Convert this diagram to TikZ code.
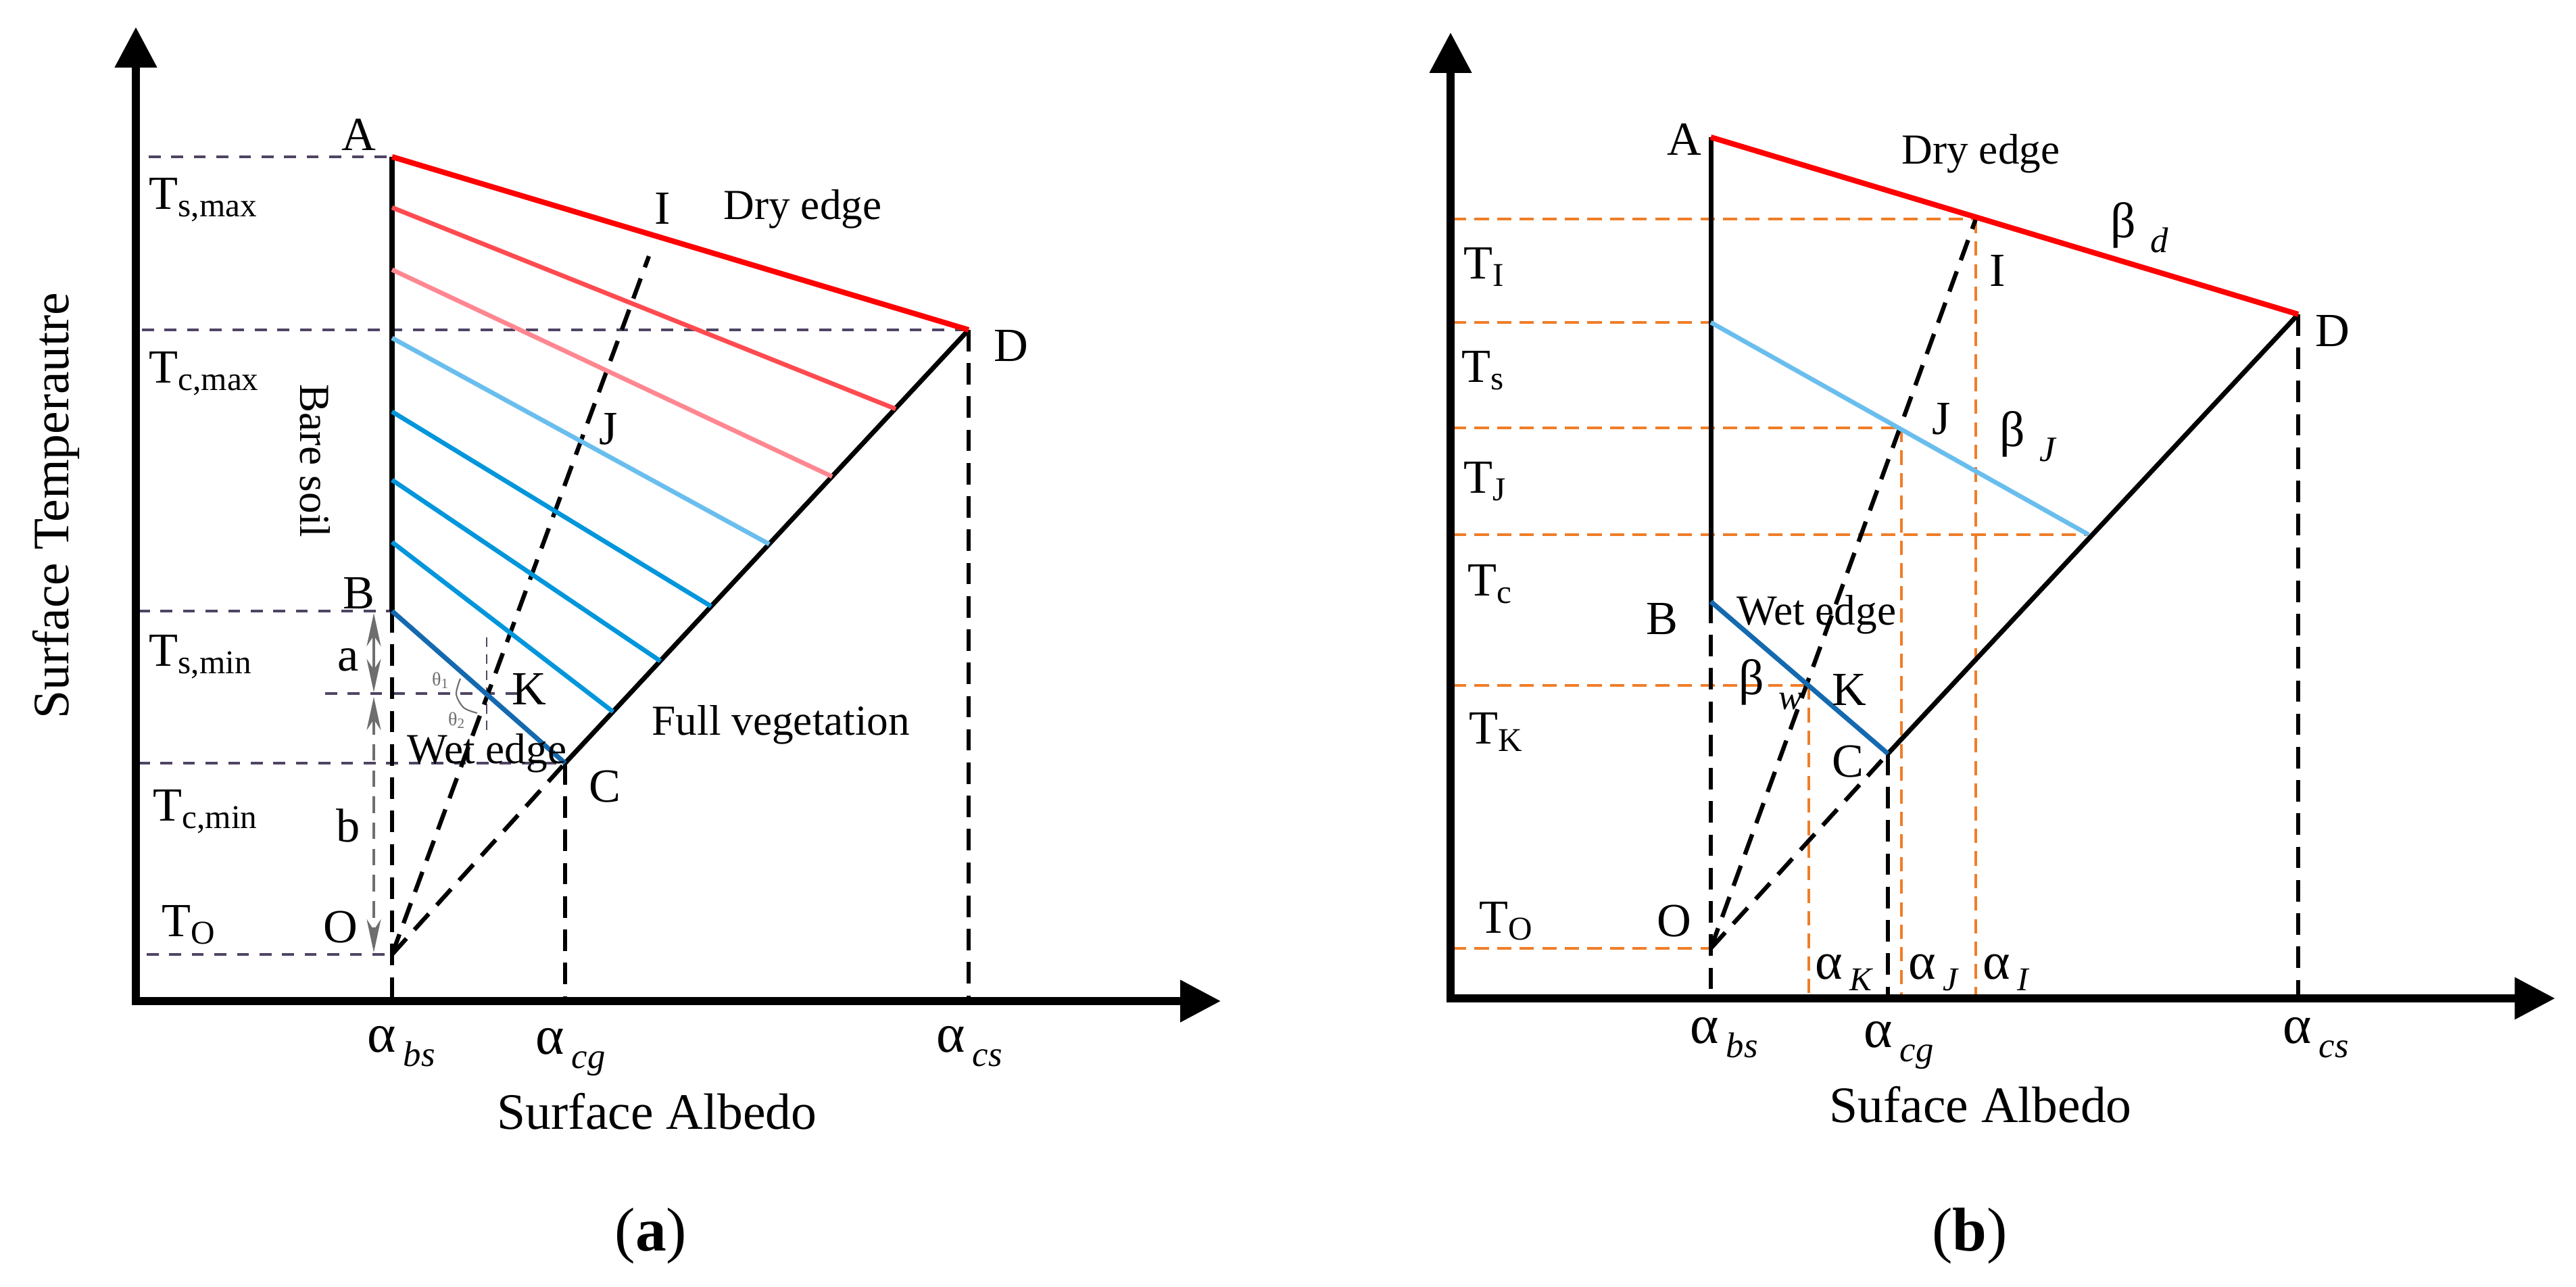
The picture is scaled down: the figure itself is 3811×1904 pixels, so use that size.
\documentclass[tikz,border=0pt]{standalone}
\usepackage{fontspec}
\setmainfont{Liberation Serif}
\usetikzlibrary{arrows.meta}
\definecolor{dryred}{RGB}{255,0,0}
\definecolor{redtwo}{RGB}{255,75,80}
\definecolor{pinkthree}{RGB}{255,135,145}
\definecolor{lblue}{RGB}{105,190,238}
\definecolor{mblue}{RGB}{0,150,220}
\definecolor{wblue}{RGB}{20,105,175}
\definecolor{pgray}{RGB}{80,68,100}
\definecolor{orng}{RGB}{240,125,40}
\definecolor{agray}{RGB}{110,110,110}
\newcommand\fsz[1]{\fontsize{#1}{#1}\selectfont}
\newcommand\Tlab[1]{T\raisebox{-3pt}{\fsz{14}#1}}
\newcommand\alab[1]{{\fsz{23}α}\hspace{3pt}\raisebox{-6pt}{\fsz{15}\itshape #1}}
\newcommand\alsm[1]{{\fsz{22}α}\hspace{3pt}\raisebox{-5pt}{\fsz{14}\itshape #1}}
\newcommand\belab[1]{{\fsz{21}β}\hspace{6pt}\raisebox{-6pt}{\fsz{15}\itshape #1}}
\begin{document}
\begin{tikzpicture}[x=0.01cm,y=-0.01cm,
  axes/.style={line width=3.2pt,{Triangle[length=17pt,width=17pt]}-{Triangle[length=17pt,width=17pt]}},
  blk/.style={line width=2pt,black},
  bdash/.style={line width=1.8pt,black,dash pattern=on 9pt off 5pt},
  pdash/.style={line width=1.2pt,pgray,dash pattern=on 5pt off 4.5pt},
  pthin/.style={line width=0.8pt,pgray,dash pattern=on 4pt off 3pt},
  odash/.style={line width=1.3pt,orng,dash pattern=on 6pt off 3.5pt},
  cline/.style={line width=1.9pt},
  garrow/.style={line width=0.9pt,agray,{Stealth[length=14pt,width=6pt]}-{Stealth[length=14pt,width=6pt]}},
  lab/.style={inner sep=0pt,font=\fsz{20}},
  word/.style={inner sep=0pt,font=\fsz{18}},
  ttl/.style={inner sep=0pt,font=\fsz{21.5}},
  tiny/.style={inner sep=0pt,font=\fsz{8},text=agray},
  panel/.style={inner sep=0pt,font=\fsz{26}}]
\useasboundingbox (0,0) rectangle (3811,1904);
\fill[white] (0,0) rectangle (3811,1904);

% ================= Panel (a) =================
\coordinate (aOrg) at (201,1481);
\coordinate (aYt) at (201,40);
\coordinate (aXt) at (1806,1481);
\coordinate (aA) at (580,232);
\coordinate (aB) at (580,904);
\coordinate (aC) at (836,1129);
\coordinate (aD) at (1433,488);
\coordinate (aO) at (580,1412);
\coordinate (aK) at (720,1026);
\coordinate (aIe) at (960,379);
\coordinate (aBx) at (580,1481);
\coordinate (aCx) at (836,1481);
\coordinate (aDx) at (1433,1481);
\coordinate (aS2) at (580,307);  \coordinate (aE2) at (1325,605);
\coordinate (aS3) at (580,399);  \coordinate (aE3) at (1231,705);
\coordinate (aS4) at (580,500);  \coordinate (aE4) at (1138,805);
\coordinate (aS5) at (580,609);  \coordinate (aE5) at (1052,897);
\coordinate (aS6) at (580,710);  \coordinate (aE6) at (977,978);
\coordinate (aS7) at (580,802);  \coordinate (aE7) at (907,1053);
\coordinate (aL1) at (220,232);
\coordinate (aL2) at (210,488);
\coordinate (aL3) at (204,904);
\coordinate (aL4) at (204,1129);
\coordinate (aL5) at (217,1412);
\coordinate (aKl) at (481,1026);
\coordinate (aKr) at (770,1026);
\coordinate (aKt) at (720,943);
\coordinate (aKb) at (720,1083);
\coordinate (aArT) at (553,907);
\coordinate (aArM) at (553,1024);
\coordinate (aArN) at (553,1031);
\coordinate (aArB) at (553,1409);

% purple dashed guides
\draw[pdash] (aL1) -- (aA);
\draw[pdash] (aL2) -- (aD);
\draw[pdash] (aL3) -- (aB);
\draw[pdash] (aL4) -- (aC);
\draw[pdash] (aL5) -- (aO);
\draw[pdash] (aKl) -- (aKr);
\draw[pthin] (aKt) -- (aKb);
% grey double arrows a and b
\draw[garrow] (aArT) -- (aArM);
\draw[garrow,dash pattern=on 7pt off 4pt] (aArN) -- (aArB);
% black dashed
\draw[bdash] (aB) -- (aBx);
\draw[bdash] (aC) -- (aCx);
\draw[bdash] (aD) -- (aDx);
\draw[bdash] (aO) -- (aC);
\draw[bdash] (aO) -- (aIe);
% solid frame lines
\draw[blk] (aA) -- (aB);
\draw[blk] (aC) -- (aD);
% interior lines
\draw[cline,redtwo] (aS2) -- (aE2);
\draw[cline,pinkthree] (aS3) -- (aE3);
\draw[cline,lblue] (aS4) -- (aE4);
\draw[cline,mblue] (aS5) -- (aE5);
\draw[cline,mblue] (aS6) -- (aE6);
\draw[cline,mblue] (aS7) -- (aE7);
\draw[line width=2.3pt,dryred] (aA) -- (aD);
\draw[line width=2pt,wblue] (aB) -- (aC);
% angle arcs
\draw[agray,line width=0.6pt] plot[smooth] coordinates {(681,1004) (675,1027) (686,1047) (706,1055)};
\node[tiny] (ath1) at (652,1007) {θ\textsubscript{1}};
\node[tiny] (ath2) at (676,1066) {θ\textsubscript{2}};
% axes
\draw[axes] (aYt) -- (aOrg) -- (aXt);
% labels
\node[lab,anchor=base] (laA) at (531,223) {A};
\node[lab,anchor=base west] (laTsmax) at (220,310) {\Tlab{s,max}};
\node[lab,anchor=base west] (laTcmax) at (220,567) {\Tlab{c,max}};
\node[lab,anchor=base] (laI) at (980,332) {I};
\node[word,anchor=base west] (laDry) at (1070,325) {Dry edge};
\node[lab,anchor=base west] (laD) at (1470,535) {D};
\node[lab,anchor=base west] (laJ) at (886,658) {J};
\node[word,rotate=-90] (laBare) at (466,682) {Bare soil};
\node[ttl,rotate=90] (laYttl) at (83,748) {Surface Temperautre};
\node[lab,anchor=base] (laB) at (531,901) {B};
\node[lab,anchor=base] (laa) at (515,993) {a};
\node[lab,anchor=base] (lab) at (515,1246) {b};
\node[lab,anchor=base west] (laTsmin) at (220,986) {\Tlab{s,min}};
\node[lab,anchor=base west] (laTcmin) at (226,1215) {\Tlab{c,min}};
\node[lab,anchor=base west] (laTO) at (239,1386) {\Tlab{O}};
\node[lab,anchor=base] (laO) at (504,1394) {O};
\node[lab,anchor=base west] (laK) at (757,1043) {K};
\node[word,anchor=base west] (laWet) at (602,1130) {Wet edge};
\node[lab,anchor=base west] (laC) at (871,1187) {C};
\node[word,anchor=base west] (laFull) at (964,1088) {Full vegetation};
\node[inner sep=0pt,anchor=base west] (laabs) at (543,1556) {\alab{bs}};
\node[inner sep=0pt,anchor=base west] (laacg) at (792,1559) {\alab{cg}};
\node[inner sep=0pt,anchor=base west] (laacs) at (1385,1556) {\alab{cs}};
\node[ttl,anchor=base] (laXttl) at (972,1670) {Surface Albedo};
\node[panel,anchor=base] (lapa) at (963,1850) {(\textbf{a})};

% ================= Panel (b) =================
\coordinate (bOrg) at (2146,1477);
\coordinate (bYt) at (2146,48);
\coordinate (bXt) at (3780,1477);
\coordinate (bA) at (2531,203);
\coordinate (bB) at (2531,890);
\coordinate (bC) at (2793,1115);
\coordinate (bD) at (3400,465);
\coordinate (bO) at (2531,1403);
\coordinate (bK) at (2676,1014);
\coordinate (bJ) at (2813,633);
\coordinate (bI) at (2923,324);
\coordinate (bS) at (2531,477);
\coordinate (bL) at (3090,791);
\coordinate (bBx) at (2531,1477);
\coordinate (bCx) at (2793,1477);
\coordinate (bDx) at (3400,1477);
\coordinate (bKx) at (2676,1477);
\coordinate (bJx) at (2813,1477);
\coordinate (bIx) at (2923,1477);
\coordinate (bTI) at (2148,324);
\coordinate (bTs) at (2148,477);
\coordinate (bTJ) at (2148,633);
\coordinate (bTc) at (2148,791);
\coordinate (bTK) at (2148,1014);
\coordinate (bTO) at (2148,1403);

% orange guides
\draw[odash] (bTI) -- (bI);
\draw[odash] (bTs) -- (bS);
\draw[odash] (bTJ) -- (bJ);
\draw[odash] (bTc) -- (bL);
\draw[odash] (bTK) -- (bK);
\draw[odash] (bTO) -- (bO);
\draw[odash] (bK) -- (bKx);
\draw[odash] (bJ) -- (bJx);
\draw[odash] (bI) -- (bIx);
% black dashed
\draw[bdash] (bB) -- (bBx);
\draw[bdash] (bC) -- (bCx);
\draw[bdash] (bD) -- (bDx);
\draw[bdash] (bO) -- (bC);
\draw[bdash] (bO) -- (bI);
% solid lines
\draw[blk] (bA) -- (bB);
\draw[blk] (bC) -- (bD);
\draw[cline,lblue] (bS) -- (bL);
\draw[line width=2.3pt,dryred] (bA) -- (bD);
\draw[line width=2pt,wblue] (bB) -- (bC);
% axes
\draw[axes] (bYt) -- (bOrg) -- (bXt);
% labels
\node[lab,anchor=base] (lbA) at (2492,230) {A};
\node[word,anchor=base west] (lbDry) at (2813,243) {Dry edge};
\node[inner sep=0pt,anchor=base west] (lbbd) at (3122,352) {\belab{d}};
\node[lab,anchor=base] (lbI) at (2955,424) {I};
\node[lab,anchor=base west] (lbD) at (3425,513) {D};
\node[lab,anchor=base west] (lbJ) at (2858,643) {J};
\node[inner sep=0pt,anchor=base west] (lbbJ) at (2958,661) {\belab{J}};
\node[lab,anchor=base west] (lbTI) at (2165,413) {\Tlab{I}};
\node[lab,anchor=base west] (lbTs) at (2162,566) {\Tlab{s}};
\node[lab,anchor=base west] (lbTJ) at (2165,730) {\Tlab{J}};
\node[lab,anchor=base west] (lbTc) at (2171,882) {\Tlab{c}};
\node[lab,anchor=base] (lbB) at (2459,939) {B};
\node[word,anchor=base west] (lbWet) at (2569,925) {Wet edge};
\node[inner sep=0pt,anchor=base west] (lbbw) at (2572,1028) {\belab{w}};
\node[lab,anchor=base west] (lbK) at (2710,1044) {K};
\node[lab,anchor=base west] (lbTK) at (2173,1101) {\Tlab{K}};
\node[lab,anchor=base west] (lbC) at (2710,1150) {C};
\node[lab,anchor=base west] (lbTO) at (2188,1380) {\Tlab{O}};
\node[lab,anchor=base] (lbO) at (2477,1386) {O};
\node[inner sep=0pt,anchor=base west] (lbaK) at (2685,1448) {\alsm{K}};
\node[inner sep=0pt,anchor=base west] (lbaJ) at (2823,1448) {\alsm{J}};
\node[inner sep=0pt,anchor=base west] (lbaI) at (2933,1448) {\alsm{I}};
\node[inner sep=0pt,anchor=base west] (lbabs) at (2500,1543) {\alab{bs}};
\node[inner sep=0pt,anchor=base west] (lbacg) at (2757,1549) {\alab{cg}};
\node[inner sep=0pt,anchor=base west] (lbacs) at (3377,1543) {\alab{cs}};
\node[ttl,anchor=base] (lbXttl) at (2930,1660) {Suface Albedo};
\node[panel,anchor=base] (lbpb) at (2914,1850) {(\textbf{b})};
\end{tikzpicture}
\end{document}
